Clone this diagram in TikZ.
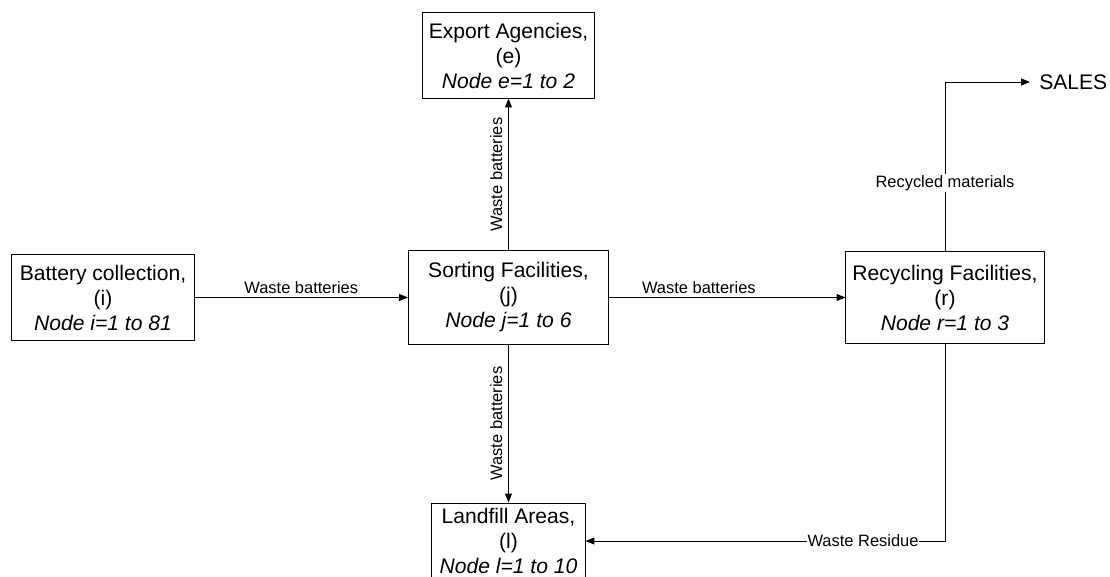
\documentclass[tikz,border=0pt]{standalone}
\usepackage{fontspec}
\setmainfont{Liberation Sans}
\usepackage{tikz}
\usetikzlibrary{arrows.meta,positioning}

\begin{document}
\begin{tikzpicture}[x=0.025cm,y=-0.025cm,
   facnode/.style={rectangle,draw,line width=0.7pt,align=center,inner sep=0pt,
     font=\fontsize{15}{17.8}\selectfont},
   lbl/.style={font=\fontsize{11.7}{14}\selectfont,inner sep=2.5pt},
   flow/.style={-{Triangle[length=2.2mm,width=1.7mm]},line width=0.7pt}]
  \useasboundingbox (0,0) rectangle (1110,577);
  \clip (0,0) rectangle (1110,577);
  \node[facnode,minimum width=4.55cm,minimum height=2.125cm] (bat) at (103,297.5)
     {Battery collection,\\ (i)\\ \textit{Node i=1 to 81}};
  \node[facnode,minimum width=5cm,minimum height=2.325cm] (sort) at (508.5,297.5)
     {Sorting Facilities,\\ (j)\\ \textit{Node j=1 to 6}};
  \node[facnode,minimum width=4.275cm,minimum height=2.125cm] (exp) at (508.5,55.5)
     {Export Agencies,\\ (e)\\ \textit{Node e=1 to 2}};
  \node[facnode,minimum width=4.95cm,minimum height=2.3cm] (rec) at (945,297.5)
     {Recycling Facilities,\\ (r)\\ \textit{Node r=1 to 3}};
  \node[facnode,minimum width=3.825cm,minimum height=1.9cm] (land) at (508.5,541)
     {Landfill Areas,\\ (l)\\ \textit{Node l=1 to 10}};
  \node[font=\fontsize{15}{17.8}\selectfont,anchor=west,inner xsep=0.225cm,inner ysep=0pt]
     (sales) at (1030,82) {SALES};
  % main flows
  \draw[flow] (bat) -- (sort) node[midway,above,lbl] {Waste batteries};
  \draw[flow] (sort) -- (rec) node[pos=0.38,above,lbl] {Waste batteries};
  \foreach \t in {exp,land}{
    \draw[flow] (sort) -- (\t) node[midway,rotate=90,anchor=south,lbl,inner sep=4pt] {Waste batteries};
  }
  % outputs of recycling
  \draw[flow] (rec.north) |- (sales.west)
     node[pos=0.2,fill=white,lbl,inner sep=1pt] {Recycled materials};
  \draw[flow] (rec.south) |- (land.east)
     node[pos=0.614,fill=white,lbl,inner sep=0.5pt] {Waste Residue};
\end{tikzpicture}
\end{document}
